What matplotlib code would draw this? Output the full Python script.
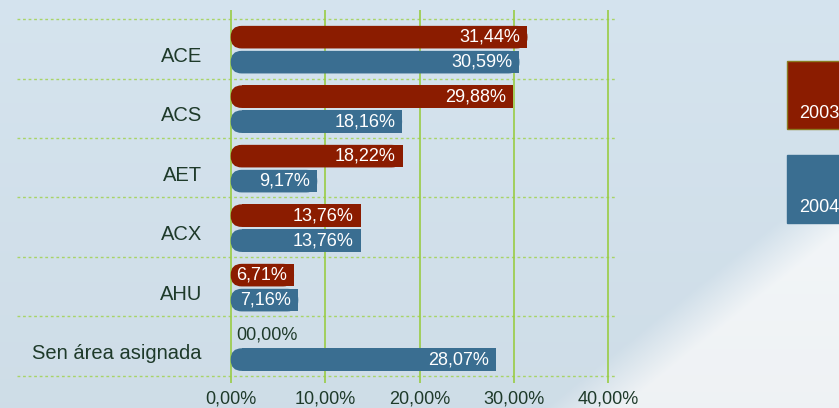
import numpy as np
import matplotlib.pyplot as plt
from matplotlib.patches import FancyBboxPatch, Rectangle

# Data
categories = ["ACE", "ACS", "AET", "ACX", "AHU", "Sen área asignada"]
values_2003 = [31.44, 29.88, 18.22, 13.76, 6.71, 0.00]
values_2004 = [30.59, 18.16, 9.17, 13.76, 7.16, 28.07]
series_names = ["2003", "2004"]
xticks = [0, 10, 20, 30, 40]

red = "#8b1c00"
blue = "#3a6e91"
text_dark = "#1e3a2a"
grid_green = "#99cc44"


def pct(v):
    return f"{v:.2f}".replace(".", ",") + "%"


plt.rcParams['font.family'] = ['Liberation Sans', 'DejaVu Sans']

W, H = 839, 408
fig = plt.figure(figsize=(W / 100, H / 100), dpi=100)

# Background: pale blue with a lighter swoosh in the lower right
bg = fig.add_axes([0, 0, 1, 1])
yy, xx = np.mgrid[0:H, 0:W]
base = np.array([0.835, 0.893, 0.935])
light = np.array([0.965, 0.978, 0.988])
d = (xx - 620) * 0.62 + (yy - 408) * 1.0 + 0.0
d = -((yy - 408) + (xx - 620) * 0.8)
t = np.clip((d + 0) / 60.0, 0, 1)[..., None]
t = np.clip(((yy - 408) + (xx - 620) * 0.8) / 60.0 + 1, 0, 1)[..., None]
shade = 1 - 0.03 * (yy / H)[..., None]
img = (base * (1 - t) + light * t) * shade
bg.imshow(img, aspect="auto", extent=[0, W, H, 0])
bg.set_axis_off()

# Main axes: pixel geometry
left_px, right_px = 17, 617
top_px, bot_px = 9.5, 383.1
ax = fig.add_axes([left_px / W, 1 - bot_px / H, (right_px - left_px) / W, (bot_px - top_px) / H])
ax.patch.set_alpha(0)
ppu = (608.3 - 230.7) / 40
ax.set_xlim((left_px - 230.7) / ppu, (right_px - 230.7) / ppu)
ax.set_ylim(5.62, -0.66)
for s in ax.spines.values():
    s.set_visible(False)

n = len(categories)
ypos = np.arange(n)

# grid
for b in np.arange(-0.5, n, 1.0):
    ax.axhline(b, color="#a8d468", lw=1.0, ls=(0, (2, 2)), zorder=1)
for xv in xticks:
    ax.axvline(xv, color=grid_green, lw=1.2, zorder=1)

ax.set_xticks(xticks)
ax.set_xticklabels([pct(v) for v in xticks], fontsize=13, color=text_dark)
ax.tick_params(axis="x", length=0, pad=5)
ax.set_yticks([])

# bar geometry
h = 0.38
off_r, off_b = -0.195, 0.225
x_per_px = 1 / ppu
y_per_px = 1 / ((bot_px - top_px) / (5.62 + 0.66))
r_px = 11
rx = r_px * x_per_px
aspect = y_per_px / x_per_px


def rounded_bar(y, v, color):
    if v <= 0:
        return
    box = FancyBboxPatch((0, y - h / 2), v, h,
                         boxstyle=f"round,pad=0,rounding_size={rx}",
                         mutation_aspect=aspect, fc=color, ec="none", zorder=3)
    ax.add_patch(box)
    ax.add_patch(Rectangle((min(rx, v / 2), y - h / 2), v - min(rx, v / 2), h,
                           fc=color, ec="none", zorder=3))


for i in range(n):
    for v, off, col in [(values_2003[i], off_r, red), (values_2004[i], off_b, blue)]:
        y = i + off
        if v > 0:
            rounded_bar(y, v, col)
            ax.annotate(pct(v), (v, y), xytext=(-5, 0), textcoords="offset points",
                        ha="right", va="center", color="white", fontsize=13, zorder=4)
        else:
            ax.annotate(pct(v).replace("0,", "00,", 1), (0, y), xytext=(4, 0),
                        textcoords="offset points", ha="left", va="center",
                        color=text_dark, fontsize=13, zorder=4)
    ax.text(-3.05, i + 0.13, categories[i], ha="right", va="center",
            fontsize=14.5, color=text_dark)

# legend boxes (cut off at right edge)
legend_colors = [red, blue]
legend_tops = [61, 155]
for name, col, top in zip(series_names, legend_colors, legend_tops):
    ec = "#8a7a20" if col == red else col
    fig.patches.append(Rectangle((787 / W, 1 - (top + 68) / H), 80 / W, 68 / H,
                                 transform=fig.transFigure, fc=col, ec=ec, lw=1))
    fig.text(799 / W, 1 - (top + 53) / H, name, color="white", fontsize=13,
             ha="left", va="center")

fig.savefig("out.png", dpi=100)
